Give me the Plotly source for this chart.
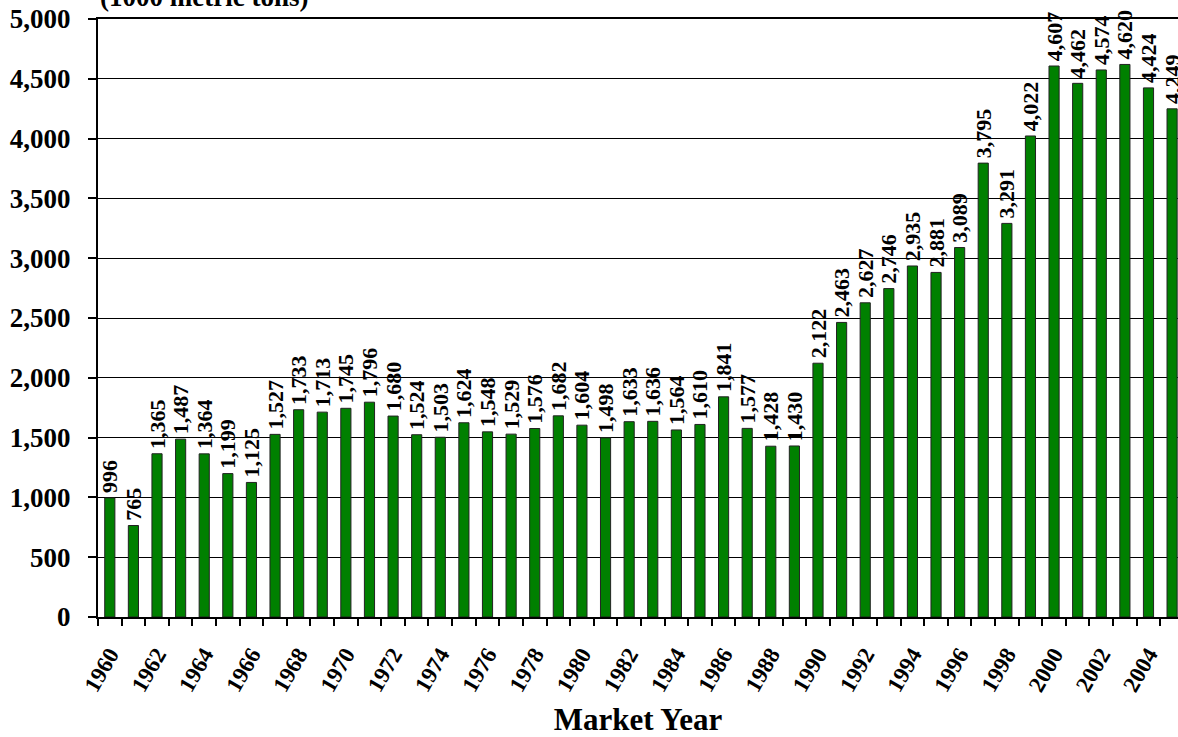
import plotly.graph_objects as go

years = list(range(1960, 2006))
values = [996, 765, 1365, 1487, 1364, 1199, 1125, 1527, 1733, 1713,
          1745, 1796, 1680, 1524, 1503, 1624, 1548, 1529, 1576, 1682,
          1604, 1498, 1633, 1636, 1564, 1610, 1841, 1577, 1428, 1430,
          2122, 2463, 2627, 2746, 2935, 2881, 3089, 3795, 3291, 4022,
          4607, 4462, 4574, 4620, 4424, 4249]
x_tick_years = list(range(1960, 2006, 2))
y_ticks = list(range(0, 5001, 500))

FONT = "Liberation Serif"

fig = go.Figure()
fig.add_trace(go.Bar(
    x=years, y=values,
    marker=dict(color="#008000", line=dict(color="#222222", width=1)),
    text=[f"\u200a{v:,}" for v in values],
    textposition="outside",
    textangle=-90,
    constraintext="none",
    cliponaxis=False,
    textfont=dict(family=FONT, size=22, color="black", weight="bold"),
))

fig.update_layout(
    width=1178, height=737,
    margin=dict(l=98, r=0, t=19, b=120),
    plot_bgcolor="white", paper_bgcolor="white",
    bargap=0.57,
    showlegend=False,
    font=dict(family=FONT, color="black"),
)

fig.update_xaxes(
    range=[1959.5, 2005.25],
    automargin=False,
    tickmode="array", tickvals=x_tick_years, ticktext=[str(y) for y in x_tick_years],
    tickangle=-60,
    ticks="", showgrid=False,
    ticklabelstandoff=13,
    tickfont=dict(family=FONT, size=23, color="black", weight="bold"),
    showline=True, linecolor="black", linewidth=2, mirror=True,
    minor=dict(ticks="outside", tick0=1959.5, dtick=1, ticklen=7, tickcolor="black", tickwidth=2, showgrid=False),
    title=dict(text="Market Year", font=dict(family=FONT, size=31, color="black", weight="bold"), standoff=36),
)

fig.update_yaxes(
    range=[0, 5000],
    automargin=False,
    tickmode="array", tickvals=y_ticks, ticktext=[f"{v:,}" for v in y_ticks],
    ticks="outside", ticklen=8, tickcolor="black", tickwidth=2,
    ticklabelstandoff=12,
    tickfont=dict(family=FONT, size=27, color="black", weight="bold"),
    showgrid=True, gridcolor="black", gridwidth=1,
    showline=True, linecolor="black", linewidth=2,
    zeroline=False,
)

fig.add_annotation(
    text="(1000 metric tons)", xref="paper", yref="paper",
    x=0, y=1, xanchor="left", yanchor="bottom", yshift=5,
    showarrow=False,
    font=dict(family=FONT, size=27, color="black", weight="bold"),
)

fig.write_html(
    "out.html",
    config={"displayModeBar": False},
    post_script="document.body.style.margin='0';document.body.style.overflow='hidden';",
)
